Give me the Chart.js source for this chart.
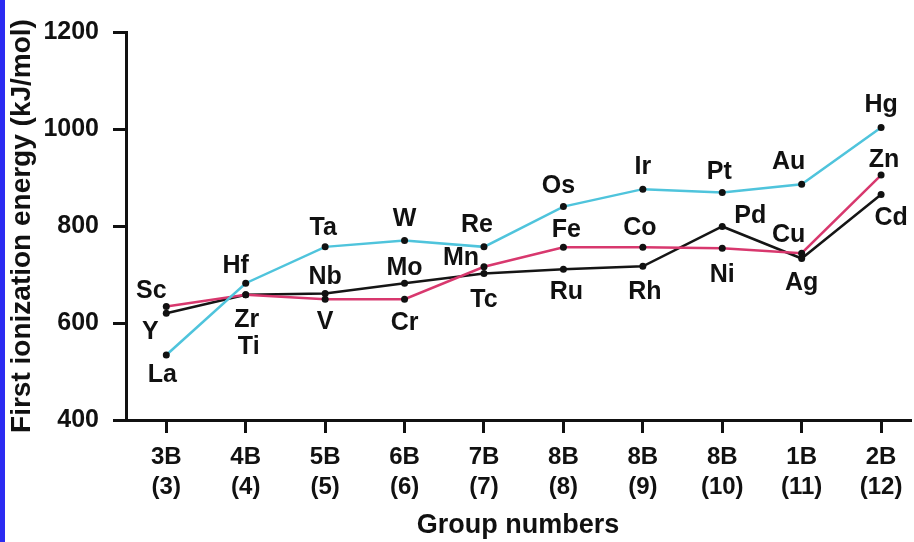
<!DOCTYPE html>
<html>
<head>
<meta charset="utf-8">
<script src="https://cdn.jsdelivr.net/npm/chart.js@4.4.1/dist/chart.umd.min.js"></script>
<style>
  body { margin: 0; background: #fff; }
  canvas { display: block; }
</style>
</head>
<body>
<canvas id="myChart" width="914" height="542"></canvas>
<script>
const groupNames = ["3B", "4B", "5B", "6B", "7B", "8B", "8B", "8B", "1B", "2B"];
const groupNumbers = ["(3)", "(4)", "(5)", "(6)", "(7)", "(8)", "(9)", "(10)", "(11)", "(12)"];

// period 4 (3d)
const elements4 = ["Sc", "Ti", "V", "Cr", "Mn", "Fe", "Co", "Ni", "Cu", "Zn"];
const energy4 = [634, 658, 649, 649, 716, 756, 756, 754, 744, 905];

// period 5 (4d)
const elements5 = ["Y", "Zr", "Nb", "Mo", "Tc", "Ru", "Rh", "Pd", "Ag", "Cd"];
const energy5 = [620, 658, 661, 682, 702, 711, 717, 799, 733, 865];

// period 6 (5d)
const elements6 = ["La", "Hf", "Ta", "W", "Re", "Os", "Ir", "Pt", "Au", "Hg"];
const energy6 = [534, 682, 757, 770, 757, 840, 876, 869, 886, 1003];

// where each element name sits relative to its point (px)
const labelOffsets4 = [[-15, -15], [3, 52], [0, 23], [0, 24], [-23, -9], [3, -17], [-3, -19], [0, 27], [-13, -18], [3, -15]];
const labelOffsets5 = [[-16, 19], [1, 25], [0, -16], [0, -15], [0, 27], [3, 23], [2, 26], [28, -10], [0, 25], [10, 24]];
const labelOffsets6 = [[-4, 20], [-10, -17], [-2, -19], [0, -21], [-7, -22], [-5, -20], [0, -22], [-3, -20], [-13, -22], [0, -22]];

const FONT = "'Liberation Sans', Arial, Helvetica, sans-serif";

const toPoints = (values) => values.map((v, i) => ({ x: i + 3, y: v }));

const pageBackground = {
  id: "pageBackground",
  beforeDraw(chart) {
    const c = chart.ctx;
    c.save();
    c.fillStyle = "#ffffff";
    c.fillRect(0, 0, chart.width, chart.height);
    c.fillStyle = "#2b2bf2";
    c.fillRect(0, 0, 5, chart.height);
    c.restore();
  },
};

const elementLabels = {
  id: "elementLabels",
  afterDatasetsDraw(chart) {
    const c = chart.ctx;
    c.save();
    c.font = "bold 25px " + FONT;
    c.fillStyle = "#111";
    c.textAlign = "center";
    c.textBaseline = "middle";
    chart.data.datasets.forEach((ds, di) => {
      const meta = chart.getDatasetMeta(di);
      meta.data.forEach((pt, i) => {
        const off = ds.labelOffsets[i];
        c.fillText(ds.names[i], pt.x + off[0], pt.y + off[1]);
      });
    });
    c.restore();
  },
};

const ctx = document.getElementById("myChart").getContext("2d");

const myChart = new Chart(ctx, {
  type: "line",
  data: {
    datasets: [
      {
        label: "Period 6",
        data: toPoints(energy6),
        names: elements6,
        labelOffsets: labelOffsets6,
        borderColor: "#4fc4dc",
      },
      {
        label: "Period 4",
        data: toPoints(energy4),
        names: elements4,
        labelOffsets: labelOffsets4,
        borderColor: "#d8386e",
      },
      {
        label: "Period 5",
        data: toPoints(energy5),
        names: elements5,
        labelOffsets: labelOffsets5,
        borderColor: "#151515",
      },
    ],
  },
  options: {
    responsive: false,
    animation: false,
    layout: { padding: { top: 32, right: 0, bottom: 0, left: 0 } },
    elements: {
      line: { borderWidth: 2.5, tension: 0 },
      point: { radius: 3.5, backgroundColor: "#111", borderWidth: 0 },
    },
    plugins: {
      legend: { display: false },
      tooltip: { enabled: false },
    },
    scales: {
      x: {
        type: "linear",
        min: 2.4927,
        max: 12.364,
        afterBuildTicks: (scale) => {
          scale.ticks = groupNames.map((g, i) => ({ value: i + 3 }));
        },
        afterFit: (scale) => {
          scale.height = 122;
        },
        border: { display: true, color: "#111", width: 3 },
        grid: {
          drawOnChartArea: false,
          drawTicks: true,
          tickLength: 13,
          color: "#111",
          lineWidth: 3,
        },
        ticks: {
          autoSkip: false,
          maxRotation: 0,
          padding: 9,
          color: "#111",
          font: { family: FONT, size: 24, weight: "bold", lineHeight: 1.25 },
          callback: (v) => {
            const i = Math.round(v) - 3;
            return [groupNames[i], groupNumbers[i]];
          },
        },
        title: {
          display: true,
          text: "Group numbers",
          color: "#111",
          font: { family: FONT, size: 27, weight: "bold" },
          padding: { top: 0, bottom: 0 },
        },
      },
      y: {
        min: 400,
        max: 1200,
        afterFit: (scale) => {
          scale.width = 126;
        },
        border: { display: true, color: "#111", width: 3 },
        grid: {
          drawOnChartArea: false,
          drawTicks: true,
          tickLength: 13,
          color: "#111",
          lineWidth: 3,
        },
        ticks: {
          stepSize: 200,
          padding: 14,
          color: "#111",
          font: { family: FONT, size: 25, weight: "bold" },
          callback: (v) => String(v),
        },
        title: {
          display: true,
          text: "First ionization energy (kJ/mol)",
          color: "#111",
          font: { family: FONT, size: 28, weight: "bold" },
          padding: { top: 5, bottom: 0 },
        },
      },
    },
  },
  plugins: [pageBackground, elementLabels],
});
</script>
</body>
</html>
